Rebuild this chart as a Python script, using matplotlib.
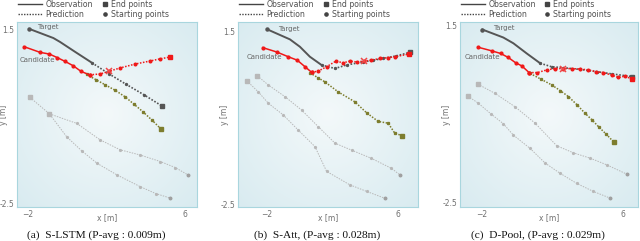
#!/usr/bin/env python3
""" trajectory prediction comparison, three panels
"""
import numpy as np
import matplotlib.pyplot as plt
from matplotlib.lines import Line2D

# panel (a) S-LSTM
a_target_obs = [(-1.93, 1.52), (-0.71, 1.31), (-0.37, 1.22), (0.40, 0.99), (1.25, 0.74)]
a_target_pred = [(1.25, 0.74), (2.1, 0.49), (3.0, 0.24), (3.9, 0.0), (4.82, -0.26)]
a_cand_obs = [(-2.20, 1.11), (-1.39, 0.98), (-0.91, 0.94), (-0.52, 0.86), (-0.11, 0.77),
              (0.30, 0.67), (0.70, 0.54), (1.13, 0.46)]
a_cand_pred = [(1.13, 0.46), (1.67, 0.48), (2.10, 0.54), (2.69, 0.62), (3.46, 0.71),
               (4.22, 0.78), (4.73, 0.83), (5.21, 0.87)]
a_cand_true = [(0.98, 0.47), (1.45, 0.35), (1.93, 0.23), (2.45, 0.10), (2.95, -0.05),
               (3.40, -0.22), (3.87, -0.40), (4.32, -0.59), (4.77, -0.79)]
a_cross = (2.10, 0.54)
a_neigh = [
    [(-1.90, -0.06), (-0.91, -0.44), (-0.03, -0.97), (0.75, -1.30), (1.51, -1.58),
     (2.53, -1.85), (3.71, -2.12), (4.5, -2.28), (5.21, -2.38)],
    [(-0.91, -0.44), (0.48, -0.66), (1.67, -1.04), (2.69, -1.27), (3.71, -1.39),
     (4.73, -1.54), (5.5, -1.68), (6.14, -1.85)],
]

# panel (b) S-Att
b_target_obs = [(-1.98, 1.54), (-0.60, 1.31), (0.01, 1.14), (0.62, 0.91), (1.33, 0.72)]
b_target_pred = [(1.33, 0.72), (2.15, 0.64), (2.86, 0.72), (3.87, 0.79), (4.5, 0.83),
                 (5.09, 0.87), (5.9, 0.93), (6.72, 1.01)]
b_cand_obs = [(-2.26, 1.12), (-1.41, 1.02), (-0.70, 0.91), (-0.15, 0.83), (0.32, 0.68),
              (0.73, 0.55)]
b_cand_pred = [(0.73, 0.55), (1.13, 0.58), (1.64, 0.68), (2.21, 0.81), (2.65, 0.77),
               (3.06, 0.81), (3.47, 0.79), (3.93, 0.81), (4.38, 0.83), (4.89, 0.87),
               (5.40, 0.89), (5.80, 0.91), (6.66, 0.97)]
b_cand_true = [(0.62, 0.54), (1.1, 0.43), (1.54, 0.33), (2.35, 0.10), (3.37, -0.13),
               (4.08, -0.38), (4.79, -0.58), (5.40, -0.62), (5.80, -0.85), (6.27, -0.91)]
b_cross = (3.93, 0.81)
b_neigh = [
    [(-3.24, 0.36), (-2.53, 0.10), (-1.92, -0.16), (-1.01, -0.43), (-0.09, -0.78),
     (0.93, -1.16), (1.64, -1.73), (3.06, -2.04), (4.08, -2.19), (5.20, -2.35)],
    [(-2.59, 0.47), (-1.92, 0.26), (-0.90, -0.01), (0.12, -0.32), (1.13, -0.70),
     (2.15, -1.08), (3.16, -1.24), (4.38, -1.43), (5.60, -1.66), (6.15, -1.82)],
]

# panel (c) D-Pool
c_target_obs = [(-1.98, 1.40), (-0.79, 1.22), (-0.22, 1.09), (0.54, 0.86), (1.30, 0.64)]
c_target_pred = [(1.30, 0.64), (1.96, 0.56), (2.62, 0.54), (3.57, 0.50), (4.52, 0.45),
                 (5.37, 0.40), (6.51, 0.34)]
c_cand_obs = [(-2.21, 1.00), (-1.45, 0.92), (-0.94, 0.86), (-0.51, 0.77), (-0.09, 0.65),
              (0.26, 0.58), (0.67, 0.43)]
c_cand_pred = [(0.67, 0.43), (1.14, 0.43), (1.68, 0.49), (2.15, 0.52), (2.62, 0.52),
               (3.10, 0.52), (3.57, 0.51), (4.04, 0.49), (4.48, 0.45), (4.89, 0.43),
               (5.37, 0.37), (5.74, 0.32), (6.13, 0.35), (6.51, 0.28)]
c_cand_true = [(0.73, 0.41), (1.35, 0.28), (1.96, 0.15), (2.45, 0.02), (2.90, -0.11),
               (3.40, -0.30), (3.85, -0.49), (4.25, -0.64), (4.61, -0.79), (5.05, -0.96),
               (5.46, -1.13)]
c_cross = (2.62, 0.52)
c_neigh = [
    [(-2.24, 0.17), (-1.26, -0.04), (-0.13, -0.34), (1.01, -0.71), (2.24, -1.22),
     (3.19, -1.38), (4.14, -1.50), (5.08, -1.65), (6.22, -1.86)],
    [(-2.81, -0.10), (-2.21, -0.26), (-1.5, -0.5), (-0.8, -0.72), (-0.22, -0.98),
     (0.73, -1.28), (1.58, -1.61), (2.43, -1.84), (3.38, -2.07), (4.32, -2.25),
     (5.27, -2.40)],
]

captions = ['(a)  S-LSTM (P-avg : 0.009m)',
            '(b)  S-Att, (P-avg : 0.028m)',
            '(c)  D-Pool, (P-avg : 0.029m)']

RED = '#f01818'
GRAY = '#555555'
OLIVE = '#7d7d2e'
LIGHT = '#b8b8b8'
TXT = '#707070'


def xy(pts):
    arr = np.array(pts)
    return arr[:, 0], arr[:, 1]


def draw_panel(ax, d, xlim, ylim, target_pos, cand_pos):
    ax.set_xlim(*xlim)
    ax.set_ylim(*ylim)

    # soft radial background
    yy, xx = np.mgrid[-1:1:200j, -1:1:200j]
    r = np.sqrt(xx ** 2 + yy ** 2) / np.sqrt(2)
    c0 = np.array([0.955, 0.975, 0.98])
    c1 = np.array([0.85, 0.922, 0.942])
    img = c0[None, None, :] * (1 - r[..., None]) + c1[None, None, :] * r[..., None]
    ax.imshow(img, extent=[0, 1, 0, 1], transform=ax.transAxes, aspect='auto', zorder=0)

    for n in d['neigh']:
        x, y = xy(n)
        ax.plot(x, y, color=LIGHT, lw=0.7, ls=(0, (1.5, 1.2)), marker='o', ms=1.3, zorder=2)
        ax.plot(x[0], y[0], 's', color=LIGHT, ms=2.8, zorder=3)
        ax.plot(x[-1], y[-1], 'o', color='#a0a0a0', ms=1.8, zorder=3)

    x, y = xy(d['true'])
    ax.plot(x, y, color=OLIVE, lw=1.1, ls=(0, (1, 1)), marker='s', ms=1.4, zorder=4)
    ax.plot(x[-1], y[-1], 's', color=OLIVE, ms=3.2, zorder=5)

    x, y = xy(d['target_obs'])
    ax.plot(x, y, color=GRAY, lw=1.4, zorder=5)
    ax.plot(x[0], y[0], 'o', color=GRAY, ms=2.2, zorder=6)
    x, y = xy(d['target_pred'])
    ax.plot(x, y, color=GRAY, lw=1.2, ls=(0, (1, 1)), marker='o', ms=1.4, zorder=5)
    ax.plot(x[-1], y[-1], 's', color=GRAY, ms=3.2, zorder=6)

    x, y = xy(d['cand_obs'])
    ax.plot(x, y, color=RED, lw=1.1, marker='o', ms=2.0, zorder=7)
    x, y = xy(d['cand_pred'])
    ax.plot(x, y, color=RED, lw=1.1, ls=(0, (1, 1)), marker='o', ms=1.9, zorder=7)
    ax.plot(x[-1], y[-1], 's', color=RED, ms=3.5, zorder=8)
    ax.plot(*d['cross'], 'x', color='#f04848', ms=4.5, mew=1.1, zorder=8)

    ax.text(*target_pos, 'Target', fontsize=5, color='#666666', ha='center', va='center')
    ax.text(*cand_pos, 'Candidate', fontsize=5, color='#666666', ha='center', va='center')

    ax.set_xticks([-2, 6])
    ax.set_yticks([1.5, -2.5])
    ax.set_yticklabels(['1.5', '-2.5'])
    ax.tick_params(length=0, labelsize=5.5, labelcolor=TXT, pad=2)
    ax.set_xlabel('x [m]', fontsize=5.5, color=TXT, labelpad=-4)
    ax.set_ylabel('y [m]', fontsize=5.5, color=TXT, labelpad=-6)
    for s in ax.spines.values():
        s.set_color('#a9d6de')
        s.set_linewidth(0.8)

    # legend drawn by hand above the axes
    w = 180.0
    kw = dict(transform=ax.transAxes, clip_on=False)
    ax.add_line(Line2D([1 / w, 25 / w], [1.096, 1.096], color='#444444', lw=1.0, **kw))
    ax.add_line(Line2D([1 / w, 25 / w], [1.042, 1.042], color='#444444', lw=1.0,
                       ls=(0, (1, 1)), **kw))
    ax.add_line(Line2D([88 / w], [1.096], marker='s', color='#444444', ms=2.8, **kw))
    ax.add_line(Line2D([88 / w], [1.042], marker='o', color='#444444', ms=2.3, **kw))
    tk = dict(transform=ax.transAxes, fontsize=5.6, color='#505050', va='center')
    ax.text(28.5 / w, 1.096, 'Observation', **tk)
    ax.text(28.5 / w, 1.042, 'Prediction', **tk)
    ax.text(94 / w, 1.096, 'End points', **tk)
    ax.text(94 / w, 1.042, 'Starting points', **tk)


fig = plt.figure(figsize=(6.4, 2.41), dpi=100)

panels = [
    dict(target_obs=a_target_obs, target_pred=a_target_pred, cand_obs=a_cand_obs,
         cand_pred=a_cand_pred, true=a_cand_true, cross=a_cross, neigh=a_neigh),
    dict(target_obs=b_target_obs, target_pred=b_target_pred, cand_obs=b_cand_obs,
         cand_pred=b_cand_pred, true=b_cand_true, cross=b_cross, neigh=b_neigh),
    dict(target_obs=c_target_obs, target_pred=c_target_pred, cand_obs=c_cand_obs,
         cand_pred=c_cand_pred, true=c_cand_true, cross=c_cross, neigh=c_neigh),
]
lefts = [17, 238, 460]
widths = [180, 180, 178]
xlims = [(-2.56, 6.6), (-3.77, 7.22), (-3.25, 6.85)]
ylims = [(-2.59, 1.68), (-2.55, 1.71), (-2.60, 1.57)]
tpos = [(-1.0, 1.57), (-0.69, 1.55), (-0.78, 1.43)]
cpos = [(-1.52, 0.81), (-2.15, 0.90), (-2.0, 0.77)]

for i in range(3):
    ax = fig.add_axes([lefts[i] / 640, 34 / 241, widths[i] / 640, 185 / 241])
    draw_panel(ax, panels[i], xlims[i], ylims[i], tpos[i], cpos[i])
    cx = (lefts[i] + widths[i] / 2 - 11) / 640
    fig.text(cx, 6 / 241, captions[i], ha='center', va='center', fontsize=8.2,
             family='Liberation Serif', color='#111111')

fig.savefig('out.png', dpi=100)
